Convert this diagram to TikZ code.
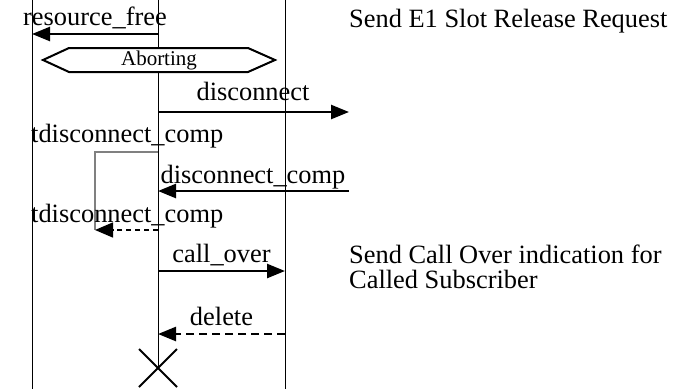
\documentclass[tikz,border=0pt]{standalone}
\usepackage{fontspec}
\setmainfont{Liberation Serif}
\usetikzlibrary{arrows.meta, calc, positioning}

\begin{document}
\begin{tikzpicture}[x=1pt, y=-1pt,
    lifeline/.style={line width=1pt},
    msg/.style={line width=2.5pt, -{Triangle[length=18pt, width=14pt]}},
    timer/.style={line width=1.5pt, gray},
    msglabel/.style={anchor=base, inner sep=0pt, font=\fontsize{26.4}{26}\selectfont},
    note/.style={anchor=base west, inner sep=0pt, align=left, font=\fontsize{26.4}{25}\selectfont}]
    \useasboundingbox (0,0) rectangle (692,389);
    % lifelines
    \coordinate (envtop) at (32, 0);
    \coordinate (envbot) at (32, 389);
    \coordinate (proctop) at (158, 0);
    \coordinate (procend) at (158, 368);
    \coordinate (peertop) at (285, 0);
    \coordinate (peerbot) at (285, 389);
    \draw[lifeline] (envtop) -- (envbot);
    \draw[lifeline] (proctop) -- (procend);
    \draw[lifeline] (peertop) -- (peerbot);
    % resource_free
    \coordinate (rf1) at (158, 34);
    \coordinate (rf2) at (32, 34);
    \draw[msg] (rf1) -- (rf2);
    \node[msglabel] (rflabel) at (95, 25) {resource\_free};
    % state
    \filldraw[line width=2pt, fill=white] (43,60) -- (69,48) -- (248,48) -- (275,60) -- (248,72) -- (69,72) -- cycle;
    \node[inner sep=0pt, font=\fontsize{21}{21}\selectfont] (abort) at (159, 60) {Aborting};
    % disconnect
    \coordinate (dc1) at (158, 112);
    \coordinate (dc2) at (349, 112);
    \draw[msg] (dc1) -- (dc2);
    \node[msglabel] (dclabel) at (253, 100) {disconnect};
    % timer
    \coordinate (tset) at (158, 152);
    \coordinate (tcorner) at (95, 152);
    \coordinate (tend) at (95, 230);
    \coordinate (tfire) at (158, 230);
    \draw[timer] (tset) -- (tcorner) -- (tend);
    \draw[line width=1.5pt, dash pattern=on 5pt off 4pt, -{Triangle[length=18pt, width=15pt]}] (tfire) -- (tend);
    \node[msglabel, anchor=base west] (tlabel1) at (31, 142) {tdisconnect\_comp};
    \node[msglabel, anchor=base west] (tlabel2) at (31, 222) {tdisconnect\_comp};
    % disconnect_comp
    \coordinate (dcc1) at (349, 191);
    \coordinate (dcc2) at (158, 191);
    \draw[msg] (dcc1) -- (dcc2);
    \node[msglabel] (dcclabel) at (253, 183) {disconnect\_comp};
    % call_over
    \coordinate (co1) at (158, 271);
    \coordinate (co2) at (285, 271);
    \draw[msg] (co1) -- (co2);
    \node[msglabel] (colabel) at (221.5, 262) {call\_over};
    % delete
    \coordinate (del1) at (285, 334);
    \coordinate (del2) at (158, 334);
    \draw[msg, dash pattern=on 8pt off 5pt] (del1) -- (del2);
    \node[msglabel] (dellabel) at (221.5, 325) {delete};
    % stop
    \draw[line width=2pt] ($(procend)+(-19,-19)$) -- ($(procend)+(19,19)$);
    \draw[line width=2pt] ($(procend)+(-19,19)$) -- ($(procend)+(19,-19)$);
    % notes
    \node[note] (relnote) at (349, 27) {Send E1 Slot Release Request};
    \node[note] (callnote) at (349, 288) {Send Call Over indication for\\Called Subscriber};
\end{tikzpicture}
\end{document}
